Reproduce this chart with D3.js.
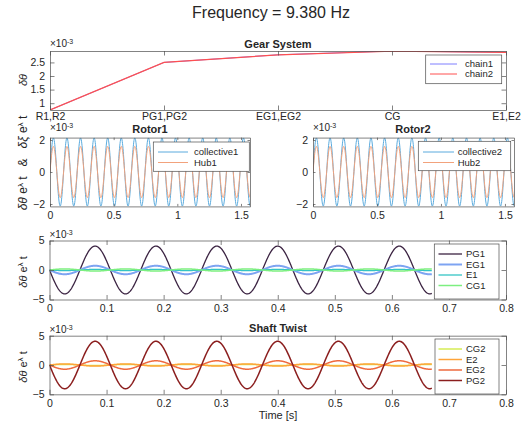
<!DOCTYPE html>
<html>
<head>
<meta charset="utf-8">
<script src="https://cdn.jsdelivr.net/npm/d3@7/dist/d3.min.js"></script>
<style>
  body { margin: 0; background: #fff; }
  text { font-family: "Liberation Sans", Arial, sans-serif; fill: #262626; }
</style>
</head>
<body>
<svg id="chart" width="531" height="430"></svg>
<script>
// ---- data ----
var freq = 9.380;                       // Hz, from the title
var gearCats = ["R1,R2", "PG1,PG2", "EG1,EG2", "CG", "E1,E2"];
var chain1 = [0.75, 2.50, 2.78, 2.92, 2.87];   // x1e-3
var chain2 = [0.75, 2.50, 2.78, 2.91, 2.87];
var gearYTicks = [1, 1.5, 2, 2.5];

// mode amplitudes (x1e-3), sign = phase of the sine
var rotor1Names = ["collective1", "Hub1"];
var rotor1Amp = [2.13, 1.60];
var rotor2Names = ["collective2", "Hub2"];
var rotor2Amp = [2.13, 1.60];
var rotorTEnd = 1.5708;
var rotorXTicks = [0, 0.5, 1, 1.5];
var rotorYTicks = [-2, 0, 2];

var shaft1Names = ["PG1", "EG1", "E1", "CG1"];
var shaft1Amp = [-4.05, -0.72, -0.10, 0.18];
var shaft2Names = ["CG2", "E2", "EG2", "PG2"];
var shaft2Amp = [0.10, 0.18, -0.72, -4.05];
var shaftTEnd = 0.67;
var timeTicks = [0, 0.1, 0.2, 0.3, 0.4, 0.5, 0.6, 0.7, 0.8];
var shaftYTicks = [-5, 0, 5];

// colours
var gearColors = ["#7f7fff", "#ff5050"];
var rotorColors = ["#5aaadd", "#f2a27c"];
var shaft1Colors = ["#3b2342", "#7ea4f2", "#35c4c4", "#7def80"];
var shaft2Colors = ["#d6ec55", "#ffa43a", "#ee6a3e", "#8b1e1e"];
var shaft1Widths = [1.3, 2, 1.3, 1.5];

var svg = d3.select("#chart");

svg.append("text").attr("x", 271).attr("y", 18).attr("text-anchor", "middle")
  .style("font-size", "16px").text("Frequency = " + freq.toFixed(3) + " Hz");

// modal time response  Re(a * e^{i w t})
function response(amp, tEnd) {
  var n = 800, pts = [];
  for (var i = 0; i <= n; i++) {
    var t = tEnd * i / n;
    pts.push([t, amp * Math.sin(2 * Math.PI * freq * t)]);
  }
  return pts;
}

var clipId = 0;
function makeAxes(o) {
  var g = svg.append("g");
  var x = o.x, y = o.y;
  var x0 = x.range()[0], x1 = x.range()[1], y0 = y.range()[1], y1 = y.range()[0];
  var tl = o.tick;
  g.append("rect").attr("x", x0).attr("y", y0).attr("width", x1 - x0).attr("height", y1 - y0)
    .attr("fill", "#fff");
  var id = "clip" + (clipId++);
  g.append("clipPath").attr("id", id).append("rect")
    .attr("x", x0).attr("y", y0).attr("width", x1 - x0).attr("height", y1 - y0);
  var plot = g.append("g").attr("clip-path", "url(#" + id + ")");

  var ax = [
    g.append("g").attr("transform", "translate(0," + y1 + ")")
      .call(d3.axisBottom(x).tickValues(o.xTicks).tickFormat(o.xFmt || d3.format("")).tickSizeInner(-tl).tickSizeOuter(0).tickPadding(o.xPad || 5)),
    g.append("g").attr("transform", "translate(0," + y0 + ")")
      .call(d3.axisTop(x).tickValues(o.xTicks).tickFormat("").tickSizeInner(-tl).tickSizeOuter(0)),
    g.append("g").attr("transform", "translate(" + x0 + ",0)")
      .call(d3.axisLeft(y).tickValues(o.yTicks).tickFormat(d3.format("")).tickSizeInner(-tl).tickSizeOuter(0).tickPadding(5)),
    g.append("g").attr("transform", "translate(" + x1 + ",0)")
      .call(d3.axisRight(y).tickValues(o.yTicks).tickFormat("").tickSizeInner(-tl).tickSizeOuter(0))
  ];
  ax.forEach(function (a) {
    a.selectAll("path, line").attr("stroke", "#4d4d4d").attr("stroke-width", 0.7);
    a.selectAll("text").style("font-size", "10.5px").attr("fill", "#262626");
  });

  // x10^-3 multiplier
  var m = g.append("text").attr("x", x0).attr("y", y0 - o.multOff).style("font-size", "10px");
  m.append("tspan").text("\u00d710");
  m.append("tspan").attr("dy", -3.5).style("font-size", "7px").text("-3");

  if (o.title) {
    g.append("text").attr("x", o.titleX).attr("y", y0 - o.titleOff).attr("text-anchor", "middle")
      .style("font-size", "11px").style("font-weight", "bold").text(o.title);
  }
  return { g: g, plot: plot };
}

function yLabel(parts, cx, cy, size) {
  var t = svg.append("text").attr("transform", "translate(" + cx + "," + cy + ") rotate(-90)")
    .attr("text-anchor", "middle").style("font-size", (size || 11) + "px")
    .style("white-space", "pre");
  parts.forEach(function (p) {
    var s = t.append("tspan").text(p.t);
    if (p.it) s.style("font-style", "italic");
    if (p.sup) s.attr("dy", -4).style("font-size", "8px");
    if (p.down) s.attr("dy", 4);
  });
}
var dThetaE = [{ t: "\u03b4\u03b8", it: true }, { t: " e" }, { t: "\u03bb", sup: true }, { t: " t", down: true }];

function legend(g, box, names, colors, widths, rowY, lineX, textX) {
  g.append("rect").attr("x", box[0]).attr("y", box[1]).attr("width", box[2]).attr("height", box[3])
    .attr("fill", "#fff").attr("stroke", "#4d4d4d").attr("stroke-width", 0.7);
  names.forEach(function (n, i) {
    g.append("line").attr("x1", lineX[0]).attr("x2", lineX[1]).attr("y1", rowY[i]).attr("y2", rowY[i])
      .attr("stroke", colors[i]).attr("stroke-width", widths ? widths[i] : 1);
    g.append("text").attr("x", textX).attr("y", rowY[i]).attr("dy", "0.35em")
      .style("font-size", "9.5px").text(n);
  });
}

// ---- Gear System ----
(function () {
  var x = d3.scalePoint().domain(gearCats).range([50, 506]).padding(0);
  var y = d3.scaleLinear().domain([0.75, 2.92]).range([110, 51]);
  var a = makeAxes({ x: x, y: y, xTicks: gearCats, xFmt: function (d) { return d; }, yTicks: gearYTicks,
    tick: 4.5, title: "Gear System", titleX: 278, multOff: 4, titleOff: 3.5, xPad: 3 });
  var line = d3.line().x(function (d, i) { return x(gearCats[i]); }).y(function (d) { return y(d); });
  [chain1, chain2].forEach(function (s, i) {
    a.plot.append("path").datum(s).attr("d", line).attr("fill", "none")
      .attr("stroke", gearColors[i]).attr("stroke-width", i ? 1.2 : 1);
  });
  legend(a.g, [425.7, 55, 76, 28.7], ["chain1", "chain2"], gearColors, null, [64, 74], [430, 457], 465);
  yLabel([{ t: "\u03b4\u03b8", it: true }], 26.5, 80);
})();

// ---- Rotors ----
function rotor(left, right, names, amps, title, titleX, legBox, legLine, legText) {
  var x = d3.scaleLinear().domain([0, rotorTEnd]).range([left, right]);
  var y = d3.scaleLinear().domain([-2.15, 2.15]).range([206.4, 137.6]);
  var a = makeAxes({ x: x, y: y, xTicks: rotorXTicks, yTicks: rotorYTicks, tick: 2.5,
    title: title, titleX: titleX, multOff: 6.5, titleOff: 4.5 });
  var line = d3.line().x(function (d) { return x(d[0]); }).y(function (d) { return y(d[1]); });
  amps.forEach(function (amp, i) {
    a.plot.append("path").datum(response(amp, rotorTEnd)).attr("d", line).attr("fill", "none")
      .attr("stroke", rotorColors[i]).attr("stroke-width", 1);
  });
  legend(a.g, legBox, names, rotorColors, null, [152, 162.5], legLine, legText);
}
rotor(50, 250, rotor1Names, rotor1Amp, "Rotor1", 150, [153.3, 142, 96, 29.3], [158, 188], 194);
rotor(313, 514, rotor2Names, rotor2Amp, "Rotor2", 413, [418.3, 141.3, 92.4, 29.4], [423, 454], 457.7);
yLabel([{ t: "\u03b4\u03b8", it: true }, { t: " e" }, { t: "\u03bb", sup: true }, { t: " t", down: true },
  { t: "   &   " }, { t: "\u03b4\u03be", it: true }, { t: " e" }, { t: "\u03bb", sup: true }, { t: " t", down: true }], 27, 163, 12);

// ---- Shaft panels ----
function shaft(top, bottom, names, amps, colors, widths, title, legBox, rowY, multOff) {
  var x = d3.scaleLinear().domain([0, 0.8]).range([49.5, 506]);
  var y = d3.scaleLinear().domain([-5, 5]).range([bottom, top]);
  var a = makeAxes({ x: x, y: y, xTicks: timeTicks, yTicks: shaftYTicks, tick: 4.5,
    title: title, titleX: 278, multOff: multOff, titleOff: 3.4 });
  var line = d3.line().x(function (d) { return x(d[0]); }).y(function (d) { return y(d[1]); });
  amps.forEach(function (amp, i) {
    a.plot.append("path").datum(response(amp, shaftTEnd)).attr("d", line).attr("fill", "none")
      .attr("stroke", colors[i]).attr("stroke-width", widths[i]);
  });
  legend(a.g, legBox, names, colors, widths, rowY, [438.5, 462], 466);
  return a;
}
shaft(240.5, 299.5, shaft1Names, shaft1Amp, shaft1Colors, shaft1Widths, null,
  [434.3, 244, 64.7, 55], [254, 264.5, 275, 285.5], 2.5);
yLabel(dThetaE, 26.5, 272);
shaft(335.7, 394.3, shaft2Names, shaft2Amp, shaft2Colors, [1.5, 1.5, 1.5, 1.5], "Shaft Twist",
  [435, 339, 64, 55], [349, 359.5, 370, 380.5], 2.5);
yLabel(dThetaE, 26.5, 367);

svg.append("text").attr("x", 278).attr("y", 419).attr("text-anchor", "middle")
  .style("font-size", "11px").text("Time [s]");
</script>
</body>
</html>
